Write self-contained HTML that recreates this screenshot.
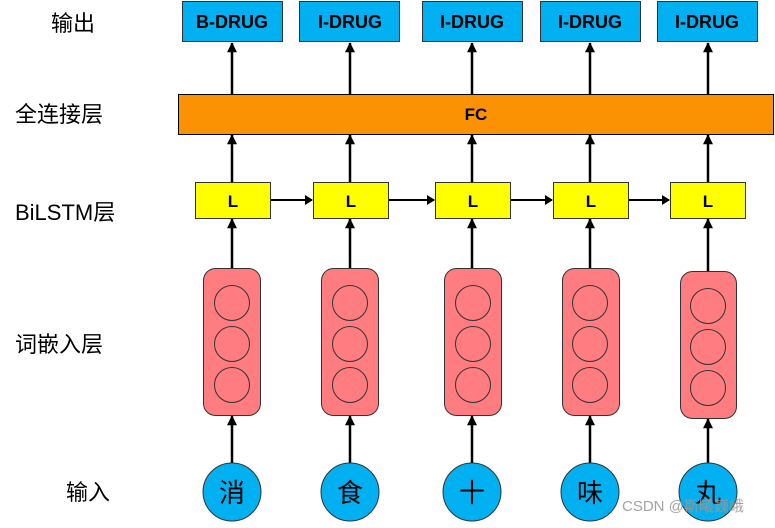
<!DOCTYPE html>
<html><head><meta charset="utf-8"><style>
body{margin:0;background:#fff;width:775px;height:523px;overflow:hidden}
text{font-family:"Liberation Sans","Noto Sans CJK SC",sans-serif}
</style></head><body>
<svg width="775" height="523" viewBox="0 0 775 523" xmlns="http://www.w3.org/2000/svg">
<defs>
<marker id="a" markerWidth="8" markerHeight="10" refX="7" refY="5" orient="auto" markerUnits="userSpaceOnUse" viewBox="0 0 8 10">
<path d="M0,0 L8,5 L0,10 z" fill="#000"/></marker>
<marker id="b" markerWidth="10" markerHeight="14" refX="13" refY="7" orient="auto" markerUnits="userSpaceOnUse" viewBox="0 0 14 14">
<path d="M0,0 L14,7 L0,14 z" fill="#000"/></marker>
</defs>
<g font-size="22" fill="#000">
<text x="51" y="31">输出</text>
<text x="15" y="122">全连接层</text>
<text x="15" y="220">BiLSTM层</text>
<text x="15" y="352">词嵌入层</text>
<text x="66" y="500">输入</text>
</g>
<rect x="178.5" y="94.5" width="595" height="40" fill="#fb9203" stroke="#000"/>
<text x="476" y="120" font-size="17" font-weight="bold" text-anchor="middle">FC</text>
<g id="cols">
</g>
<g stroke="#000" stroke-width="2.5" fill="none" marker-end="url(#b)">
<line x1="232" y1="94" x2="232" y2="43"/><line x1="350" y1="94" x2="350" y2="43"/><line x1="472" y1="94" x2="472" y2="43"/><line x1="590" y1="94" x2="590" y2="43"/><line x1="708" y1="94" x2="708" y2="43"/>
<line x1="232" y1="182" x2="232" y2="135"/><line x1="350" y1="182" x2="350" y2="135"/><line x1="472" y1="182" x2="472" y2="135"/><line x1="590" y1="182" x2="590" y2="135"/><line x1="708" y1="182" x2="708" y2="135"/>
<line x1="232" y1="268" x2="232" y2="219"/><line x1="350" y1="268" x2="350" y2="219"/><line x1="472" y1="268" x2="472" y2="219"/><line x1="590" y1="268" x2="590" y2="219"/><line x1="708" y1="271" x2="708" y2="219"/>
<line x1="232" y1="463" x2="232" y2="416"/><line x1="350" y1="463" x2="350" y2="416"/><line x1="472" y1="463" x2="472" y2="416"/><line x1="590" y1="463" x2="590" y2="416"/><line x1="708" y1="463" x2="708" y2="419"/>
</g>
<g stroke="#000" stroke-width="2" fill="none" marker-start="url(#a)" marker-end="url(#a)">
<line x1="271" y1="200" x2="312" y2="200"/><line x1="389" y1="200" x2="434" y2="200"/><line x1="511" y1="200" x2="552" y2="200"/><line x1="629" y1="200" x2="669" y2="200"/>
</g>
<g stroke="#333" stroke-width="1">
<rect x="182.5" y="1.5" width="100" height="40" fill="#00b0f0"/>
<rect x="299.5" y="1.5" width="100" height="40" fill="#00b0f0"/>
<rect x="422.5" y="1.5" width="100" height="40" fill="#00b0f0"/>
<rect x="540.5" y="1.5" width="100" height="40" fill="#00b0f0"/>
<rect x="657.5" y="1.5" width="100" height="40" fill="#00b0f0"/>
<rect x="195.5" y="182.5" width="75" height="36" fill="#ffff00"/>
<rect x="313.5" y="182.5" width="75" height="36" fill="#ffff00"/>
<rect x="435.5" y="182.5" width="75" height="36" fill="#ffff00"/>
<rect x="553.5" y="182.5" width="75" height="36" fill="#ffff00"/>
<rect x="670.5" y="182.5" width="75" height="36" fill="#ffff00"/>
<g fill="#ff7c80">
<rect x="203.5" y="268.5" width="57" height="147" rx="12"/>
<rect x="321.5" y="268.5" width="57" height="147" rx="12"/>
<rect x="444.5" y="268.5" width="57" height="147" rx="12"/>
<rect x="562.5" y="268.5" width="57" height="147" rx="12"/>
<rect x="680.5" y="271.5" width="56" height="147" rx="12"/>
</g>
<g fill="none">
<circle cx="232" cy="303" r="17.5"/><circle cx="232" cy="344" r="17.5"/><circle cx="232" cy="385" r="17.5"/>
<circle cx="350" cy="303" r="17.5"/><circle cx="350" cy="344" r="17.5"/><circle cx="350" cy="385" r="17.5"/>
<circle cx="473" cy="303" r="17.5"/><circle cx="473" cy="344" r="17.5"/><circle cx="473" cy="385" r="17.5"/>
<circle cx="590" cy="303" r="17.5"/><circle cx="590" cy="344" r="17.5"/><circle cx="590" cy="385" r="17.5"/>
<circle cx="708" cy="306" r="17.5"/><circle cx="708" cy="347" r="17.5"/><circle cx="708" cy="388" r="17.5"/>
</g>
<g fill="#00b0f0">
<circle cx="232" cy="492" r="29"/><circle cx="350" cy="492" r="29"/><circle cx="472" cy="492" r="29"/><circle cx="590" cy="492" r="29"/><circle cx="708" cy="492" r="29"/>
</g>
</g>
<g font-size="18" font-weight="bold" text-anchor="middle">
<text x="232" y="28">B-DRUG</text><text x="350" y="28">I-DRUG</text><text x="472" y="28">I-DRUG</text><text x="590" y="28">I-DRUG</text><text x="707" y="28">I-DRUG</text>
<text x="233" y="207" font-size="17">L</text><text x="351" y="207" font-size="17">L</text><text x="473" y="207" font-size="17">L</text><text x="591" y="207" font-size="17">L</text><text x="708" y="207" font-size="17">L</text>
</g>
<g font-size="26" text-anchor="middle">
<text x="232" y="502">消</text><text x="350" y="502">食</text><text x="472" y="502">十</text><text x="590" y="502">味</text><text x="708" y="502">丸</text>
</g>
<text x="622" y="511" font-size="15" fill="#999" opacity="0.9">CSDN @斯曦巍峨</text>
</svg>
</body></html>
